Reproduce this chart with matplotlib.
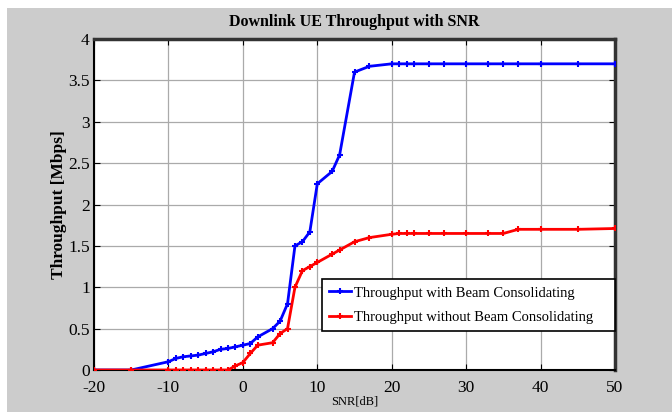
import matplotlib
matplotlib.use("Agg")
import matplotlib.pyplot as plt
from matplotlib.patches import Rectangle

snr_blue = [-20, -15, -10, -9, -8, -7, -6, -5, -4, -3, -2, -1, 0, 1, 2, 4, 5, 6, 7, 8, 9, 10, 12, 13, 15, 17,
            20, 21, 22, 23, 25, 27, 30, 33, 35, 37, 40, 45, 50]
thr_blue = [0, 0, 0.10, 0.14, 0.16, 0.17, 0.18, 0.20, 0.22, 0.25, 0.26, 0.28, 0.30, 0.32, 0.40, 0.50, 0.59, 0.80,
            1.50, 1.55, 1.67, 2.25, 2.40, 2.60, 3.60, 3.67,
            3.70, 3.70, 3.70, 3.70, 3.70, 3.70, 3.70, 3.70, 3.70, 3.70, 3.70, 3.70, 3.70]

snr_red = [-20, -15, -10, -9, -8, -7, -6, -5, -4, -3, -2, -1, 0, 1, 2, 4, 5, 6, 7, 8, 9, 10, 12, 13, 15, 17,
           20, 21, 22, 23, 25, 27, 30, 33, 35, 37, 40, 45, 50]
thr_red = [0, 0, 0, 0, 0, 0, 0, 0, 0, 0, 0, 0.05, 0.09, 0.20, 0.30, 0.33, 0.44, 0.50, 1.00, 1.20, 1.25, 1.30,
           1.40, 1.45, 1.55, 1.60,
           1.64, 1.65, 1.65, 1.65, 1.65, 1.65, 1.65, 1.65, 1.65, 1.70, 1.70, 1.70, 1.71]

xticks = [-20, -10, 0, 10, 20, 30, 40, 50]
xtick_labels = ["-20", "-10", "0", "10", "20", "30", "40", "50"]
yticks = [0, 0.5, 1, 1.5, 2, 2.5, 3, 3.5, 4]
ytick_labels = ["0", "0.5", "1", "1.5", "2", "2.5", "3", "3.5", "4"]

plt.rcParams['font.family'] = ['Liberation Serif', 'DejaVu Serif']
plt.rcParams['axes.unicode_minus'] = False

W, H = 672, 412
fig = plt.figure(figsize=(W / 100, H / 100), dpi=100)
fig.patch.set_facecolor('white')
fig.patches.append(Rectangle((7 / W, 0), 1 - 7 / W, 1 - 8 / H, transform=fig.transFigure,
                             facecolor='#cccccc', edgecolor='none', zorder=-10))

ax = fig.add_axes([94 / W, 1 - 370 / H, (615 - 94) / W, (370 - 39) / H])
ax.set_facecolor('white')

ax.plot(snr_blue, thr_blue, color='#0000ff', lw=2, marker='+', ms=5, mew=1.5,
        label='Throughput with Beam Consolidating', zorder=3)
ax.plot(snr_red, thr_red, color='#ff0000', lw=2, marker='+', ms=5, mew=1.5,
        label='Throughput without Beam Consolidating', zorder=3)

ax.set_xlim(-20, 50)
ax.set_ylim(0, 4)
ax.set_xticks(xticks)
ax.set_xticklabels(xtick_labels)
ax.set_yticks(yticks)
ax.set_yticklabels(ytick_labels)
ax.grid(True, color='#aaaaaa', lw=0.9)
ax.tick_params(direction='in', top=True, right=True, length=4, labelsize=12.5, colors='black')
ax.tick_params(axis='x', pad=7)
ax.tick_params(axis='y', pad=3)
for s in ax.spines.values():
    s.set_linewidth(1.5)
ax.spines['top'].set_color('#333333')
ax.spines['right'].set_color('#333333')
ax.spines['top'].set_linewidth(2.5)
ax.spines['right'].set_linewidth(2.5)

ax.set_title('Downlink UE Throughput with SNR', fontsize=11.5, fontweight='bold', pad=9)
ax.set_xlabel('SNR[dB]', fontsize=9, labelpad=0)
ax.set_ylabel('Throughput [Mbps]', fontsize=12.5, fontweight='bold', labelpad=1)

leg_x0 = (322 - 94) / (615 - 94)
leg = ax.legend(loc='lower left', bbox_to_anchor=(leg_x0, 0.118, 1.0 - leg_x0, 0.2), mode='expand',
                fontsize=10.5, frameon=True, fancybox=False, edgecolor='black', framealpha=1,
                borderpad=0.5, handlelength=1.5, handletextpad=0.2, labelspacing=0.75, borderaxespad=0)
leg.get_frame().set_linewidth(1.2)

fig.savefig('out.png', dpi=100)
